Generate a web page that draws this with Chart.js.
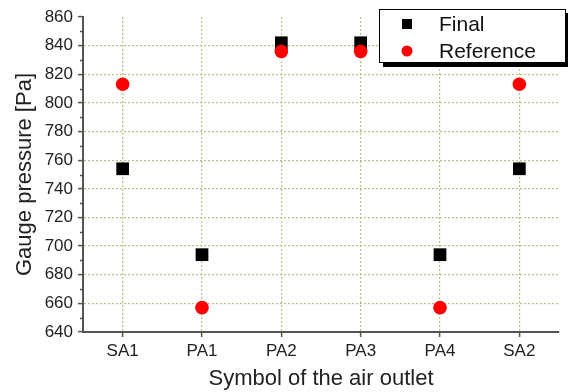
<!DOCTYPE html>
<html lang="en">
<head>
  <meta charset="UTF-8" />
  <title>Gauge pressure by air outlet</title>
  <script src="https://cdn.jsdelivr.net/npm/chart.js"></script>
  <style>
    html, body {
      margin: 0;
      padding: 0;
      background: #ffffff;
    }
    #wrap {
      width: 568px;
      height: 392px;
    }
  </style>
</head>
<body>
  <div id="wrap"><canvas id="pressureChart" width="568" height="392"></canvas></div>

  <script>
    const outlets = ['SA1', 'PA1', 'PA2', 'PA3', 'PA4', 'SA2'];
    const finalPressure = [754, 694, 842, 842, 694, 754];
    const referencePressure = [813, 657, 836, 836, 657, 813];

    const yMin = 640;
    const yMax = 860;
    const yMajorStep = 20;

    const FONT = "'Liberation Sans', Arial, sans-serif";
    const AXIS = '#555555';
    const GRID = '#bdbd86';

    const isMajor = v => v % yMajorStep === 0;

    // short minor ticks between the labelled ones on the y axis
    const minorTicks = {
      id: 'minorTicks',
      afterDraw(chart) {
        const y = chart.scales.y;
        const ctx = chart.ctx;
        ctx.save();
        ctx.strokeStyle = AXIS;
        ctx.lineWidth = 1.5;
        y.ticks.forEach(t => {
          if (isMajor(t.value)) return;
          const py = Math.round(y.getPixelForValue(t.value)) + 0.5;
          ctx.beginPath();
          ctx.moveTo(y.right - 3, py);
          ctx.lineTo(y.right, py);
          ctx.stroke();
        });
        ctx.restore();
      }
    };

    // framed legend with a drop shadow in the upper right corner
    const boxLegend = {
      id: 'boxLegend',
      afterDraw(chart) {
        const ctx = chart.ctx;
        const x = 379, y = 9, w = 187, h = 54;
        ctx.save();
        ctx.fillStyle = '#000';
        ctx.fillRect(x + 4, y + 4, w, h);
        ctx.fillStyle = '#fff';
        ctx.fillRect(x, y, w, h);
        ctx.strokeStyle = '#000';
        ctx.lineWidth = 1;
        ctx.strokeRect(x + 0.5, y + 0.5, w - 1, h - 1);

        ctx.font = '21px ' + FONT;
        ctx.textBaseline = 'middle';
        ctx.textAlign = 'left';
        const rows = [
          { ds: chart.data.datasets[0], cy: y + 15 },
          { ds: chart.data.datasets[1], cy: y + 42 }
        ];
        rows.forEach(r => {
          ctx.fillStyle = r.ds.backgroundColor;
          if (r.ds.pointStyle === 'rect') {
            ctx.fillRect(x + 23, r.cy - 5, 10, 10);
          } else {
            ctx.beginPath();
            ctx.arc(x + 28, r.cy, 5.5, 0, Math.PI * 2);
            ctx.fill();
          }
          ctx.fillStyle = '#111';
          ctx.fillText(r.ds.label, x + 60, r.cy + 1);
        });
        ctx.restore();
      }
    };

    const ctx = document.getElementById('pressureChart').getContext('2d');
    new Chart(ctx, {
      type: 'line',
      data: {
        labels: outlets,
        datasets: [
          {
            label: 'Final',
            data: finalPressure,
            showLine: false,
            pointStyle: 'rect',
            pointRadius: 9,
            pointHoverRadius: 9,
            backgroundColor: '#000000',
            borderColor: '#000000',
            borderWidth: 0,
            order: 1
          },
          {
            label: 'Reference',
            data: referencePressure,
            showLine: false,
            pointStyle: 'circle',
            pointRadius: 6.8,
            pointHoverRadius: 6.8,
            backgroundColor: '#ff0000',
            borderColor: '#ff0000',
            borderWidth: 0,
            order: 0
          }
        ]
      },
      options: {
        responsive: false,
        animation: false,
        devicePixelRatio: 1,
        layout: { padding: { top: 17, right: 0, bottom: 0, left: 0 } },
        plugins: {
          legend: { display: false },
          tooltip: { enabled: false }
        },
        scales: {
          x: {
            type: 'category',
            offset: true,
            afterFit(scale) { scale.height = 60; },
            grid: {
              offset: false,
              color: GRID,
              lineWidth: 1.2,
              drawTicks: true,
              tickLength: 5,
              tickColor: AXIS,
              tickWidth: 1.5
            },
            border: { display: true, color: AXIS, width: 2, dash: [2, 2] },
            ticks: {
              color: '#222',
              padding: 4,
              font: { family: FONT, size: 17 },
              maxRotation: 0
            },
            title: {
              display: true,
              text: 'Symbol of the air outlet',
              color: '#222',
              font: { family: FONT, size: 22 },
              padding: { top: 2, bottom: 0 }
            }
          },
          y: {
            min: yMin,
            max: yMax,
            afterFit(scale) { scale.width = 83; },
            grid: {
              color: c => (c.tick && isMajor(c.tick.value) && c.tick.value !== yMin && c.tick.value !== yMax) ? GRID : 'rgba(0,0,0,0)',
              lineWidth: 1.2,
              drawTicks: true,
              tickLength: 5,
              tickColor: c => (c.tick && isMajor(c.tick.value)) ? AXIS : 'rgba(0,0,0,0)',
              tickWidth: 1.5
            },
            border: { display: true, color: AXIS, width: 2, dash: [2, 2] },
            ticks: {
              stepSize: 10,
              autoSkip: false,
              color: '#222',
              padding: 5,
              font: { family: FONT, size: 17 },
              callback: v => isMajor(v) ? v : ''
            },
            title: {
              display: true,
              text: 'Gauge pressure [Pa]',
              color: '#222',
              font: { family: FONT, size: 22 },
              padding: { top: 12, bottom: 0 }
            }
          }
        }
      },
      plugins: [minorTicks, boxLegend]
    });
  </script>
</body>
</html>
